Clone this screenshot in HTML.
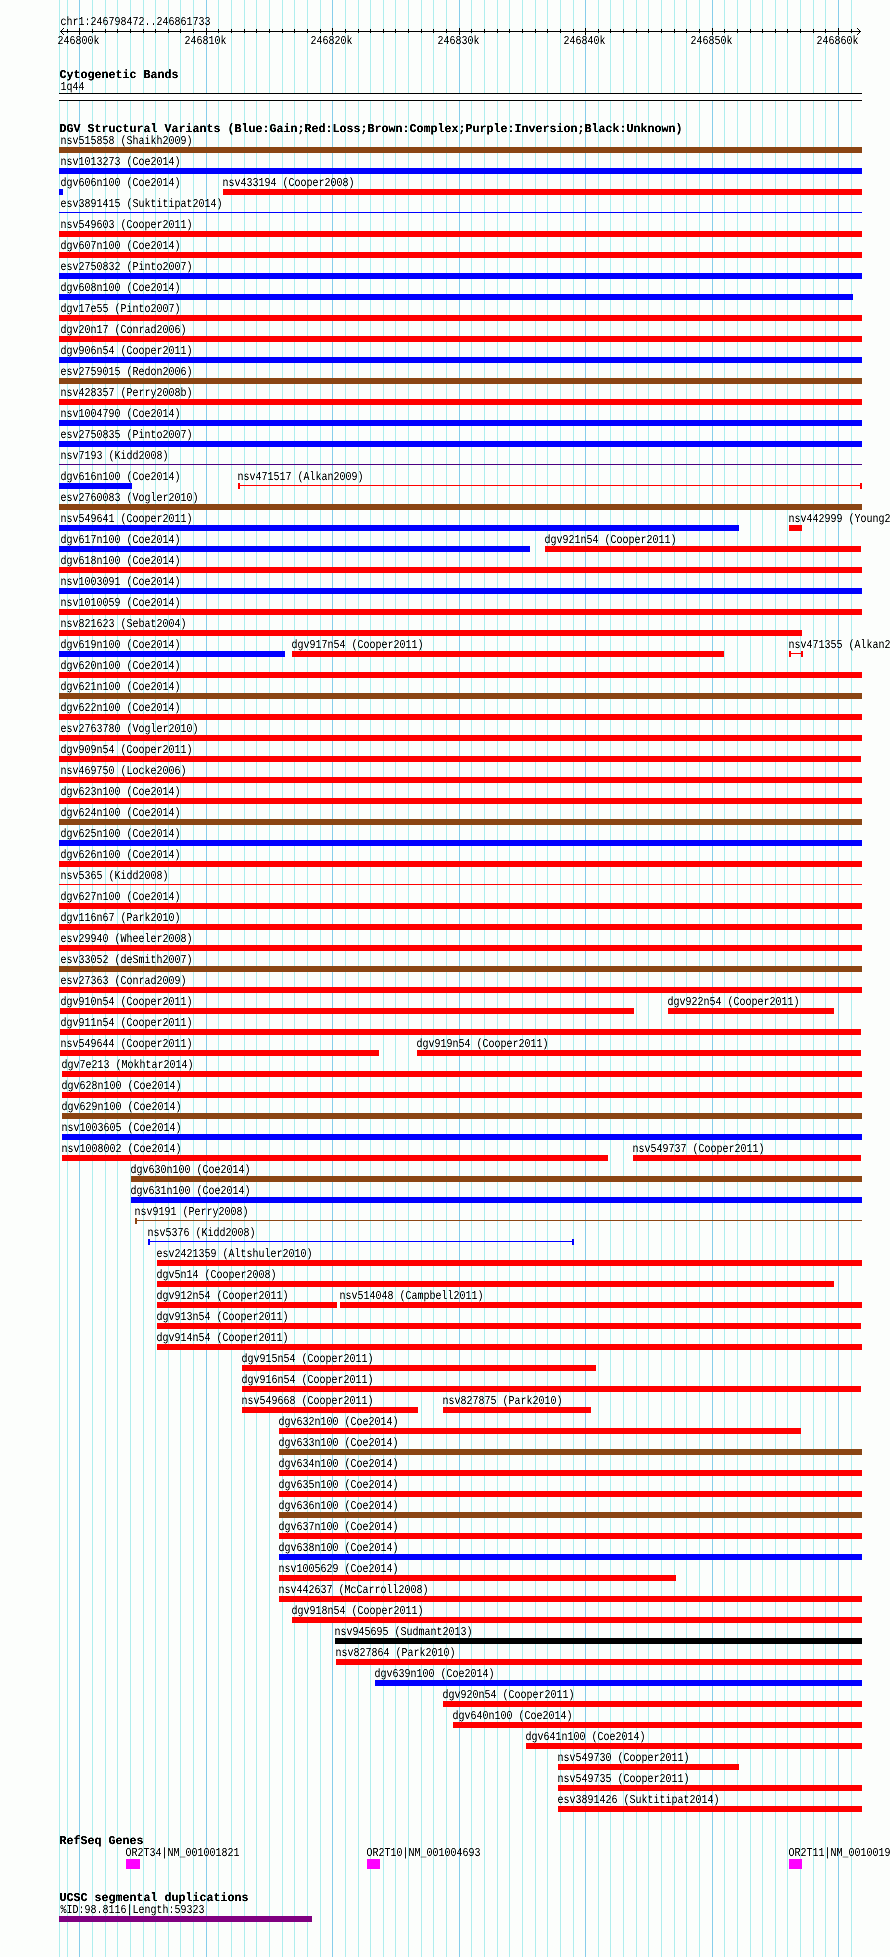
<!DOCTYPE html>
<html lang="en"><head><meta charset="utf-8"><title>DGV genome browser view chr1:246798472..246861733</title>
<style>
html,body{margin:0;padding:0;width:890px;height:1957px;overflow:hidden;background:#fcfefc}
svg{display:block;position:absolute;left:0;top:0}
text{font-family:"Liberation Mono",monospace;fill:#000;white-space:pre;text-rendering:geometricPrecision}
.s{font-size:12.15px}
.b{font-size:12px;font-weight:bold}
</style></head><body>
<svg width="890" height="1957" viewBox="0 0 890 1957">
<g shape-rendering="crispEdges">
<path fill="#afeeee" d="M59 0h1v1957h-1zM67 0h1v1957h-1zM92 0h1v1957h-1zM105 0h1v1957h-1zM117 0h1v1957h-1zM130 0h1v1957h-1zM143 0h1v1957h-1zM155 0h1v1957h-1zM168 0h1v1957h-1zM180 0h1v1957h-1zM193 0h1v1957h-1zM218 0h1v1957h-1zM231 0h1v1957h-1zM244 0h1v1957h-1zM256 0h1v1957h-1zM269 0h1v1957h-1zM282 0h1v1957h-1zM294 0h1v1957h-1zM307 0h1v1957h-1zM320 0h1v1957h-1zM345 0h1v1957h-1zM358 0h1v1957h-1zM370 0h1v1957h-1zM383 0h1v1957h-1zM395 0h1v1957h-1zM408 0h1v1957h-1zM421 0h1v1957h-1zM433 0h1v1957h-1zM446 0h1v1957h-1zM471 0h1v1957h-1zM484 0h1v1957h-1zM497 0h1v1957h-1zM509 0h1v1957h-1zM522 0h1v1957h-1zM535 0h1v1957h-1zM547 0h1v1957h-1zM560 0h1v1957h-1zM573 0h1v1957h-1zM598 0h1v1957h-1zM610 0h1v1957h-1zM623 0h1v1957h-1zM636 0h1v1957h-1zM648 0h1v1957h-1zM661 0h1v1957h-1zM674 0h1v1957h-1zM686 0h1v1957h-1zM699 0h1v1957h-1zM724 0h1v1957h-1zM737 0h1v1957h-1zM750 0h1v1957h-1zM762 0h1v1957h-1zM775 0h1v1957h-1zM787 0h1v1957h-1zM800 0h1v1957h-1zM813 0h1v1957h-1zM825 0h1v1957h-1zM851 0h1v1957h-1z"/>
<path fill="#87ceeb" d="M79 0h1v1957h-1zM206 0h1v1957h-1zM332 0h1v1957h-1zM459 0h1v1957h-1zM585 0h1v1957h-1zM712 0h1v1957h-1zM838 0h1v1957h-1z"/>
<path fill="#000" d="M60 31h801v1h-801zM67 29h1v4h-1zM79 28h1v7h-1zM92 29h1v4h-1zM105 29h1v4h-1zM117 29h1v4h-1zM130 29h1v4h-1zM143 29h1v4h-1zM155 29h1v4h-1zM168 29h1v4h-1zM180 29h1v4h-1zM193 29h1v4h-1zM206 28h1v7h-1zM218 29h1v4h-1zM231 29h1v4h-1zM244 29h1v4h-1zM256 29h1v4h-1zM269 29h1v4h-1zM282 29h1v4h-1zM294 29h1v4h-1zM307 29h1v4h-1zM320 29h1v4h-1zM332 28h1v7h-1zM345 29h1v4h-1zM358 29h1v4h-1zM370 29h1v4h-1zM383 29h1v4h-1zM395 29h1v4h-1zM408 29h1v4h-1zM421 29h1v4h-1zM433 29h1v4h-1zM446 29h1v4h-1zM459 28h1v7h-1zM471 29h1v4h-1zM484 29h1v4h-1zM497 29h1v4h-1zM509 29h1v4h-1zM522 29h1v4h-1zM535 29h1v4h-1zM547 29h1v4h-1zM560 29h1v4h-1zM573 29h1v4h-1zM585 28h1v7h-1zM598 29h1v4h-1zM610 29h1v4h-1zM623 29h1v4h-1zM636 29h1v4h-1zM648 29h1v4h-1zM661 29h1v4h-1zM674 29h1v4h-1zM686 29h1v4h-1zM699 29h1v4h-1zM712 28h1v7h-1zM724 29h1v4h-1zM737 29h1v4h-1zM750 29h1v4h-1zM762 29h1v4h-1zM775 29h1v4h-1zM787 29h1v4h-1zM800 29h1v4h-1zM813 29h1v4h-1zM825 29h1v4h-1zM838 28h1v7h-1zM851 29h1v4h-1zM61 30h1v1h-1zM62 29h1v1h-1zM63 28h1v1h-1zM61 32h1v1h-1zM62 33h1v1h-1zM63 34h1v1h-1zM859 30h1v1h-1zM858 29h1v1h-1zM857 28h1v1h-1zM859 32h1v1h-1zM858 33h1v1h-1zM857 34h1v1h-1z"/>
<rect x="59" y="93" width="803" height="8" fill="#fff"/>
<path fill="#000" d="M59 93h803v1h-803zM59 100h803v1h-803z"/>
<path fill="#8b4513" d="M59 147h803v6h-803zM59 378h803v6h-803zM59 504h803v6h-803zM59 693h803v6h-803zM59 819h803v6h-803zM59 966h803v6h-803zM62 1113h800v6h-800zM131 1176h731v6h-731zM135 1220h727v1h-727zM135 1218h2v6h-2zM279 1449h583v6h-583zM279 1512h583v6h-583z"/>
<path fill="#0000ff" d="M59 168h803v6h-803zM59 189h4v6h-4zM59 212h803v1h-803zM59 273h803v6h-803zM59 294h794v6h-794zM59 357h803v6h-803zM59 420h803v6h-803zM59 441h803v6h-803zM59 483h73v6h-73zM59 525h680v6h-680zM59 546h471v6h-471zM59 588h803v6h-803zM59 651h226v6h-226zM59 840h803v6h-803zM62 1134h800v6h-800zM131 1197h731v6h-731zM148 1241h426v1h-426zM148 1239h2v6h-2zM572 1239h2v6h-2zM279 1554h583v6h-583zM375 1680h487v6h-487z"/>
<path fill="#ff0000" d="M223 189h639v6h-639zM59 231h803v6h-803zM59 252h803v6h-803zM59 315h803v6h-803zM59 336h803v6h-803zM59 399h803v6h-803zM238 485h624v1h-624zM238 483h2v6h-2zM860 483h2v6h-2zM789 525h13v6h-13zM545 546h316v6h-316zM59 567h803v6h-803zM59 609h803v6h-803zM59 630h743v6h-743zM292 651h432v6h-432zM789 653h14v1h-14zM789 651h2v6h-2zM801 651h2v6h-2zM59 672h803v6h-803zM59 714h803v6h-803zM59 735h803v6h-803zM59 756h802v6h-802zM59 777h803v6h-803zM59 798h803v6h-803zM59 861h803v6h-803zM59 884h803v1h-803zM59 903h803v6h-803zM59 924h803v6h-803zM59 945h803v6h-803zM59 987h803v6h-803zM60 1008h574v6h-574zM668 1008h166v6h-166zM60 1029h801v6h-801zM60 1050h319v6h-319zM417 1050h444v6h-444zM62 1071h800v6h-800zM62 1092h800v6h-800zM62 1155h546v6h-546zM633 1155h228v6h-228zM157 1260h705v6h-705zM157 1281h677v6h-677zM157 1302h180v6h-180zM340 1302h522v6h-522zM157 1323h704v6h-704zM157 1344h705v6h-705zM242 1365h354v6h-354zM242 1386h619v6h-619zM242 1407h176v6h-176zM443 1407h148v6h-148zM279 1428h522v6h-522zM279 1470h583v6h-583zM279 1491h583v6h-583zM279 1533h583v6h-583zM279 1575h397v6h-397zM279 1596h583v6h-583zM292 1617h570v6h-570zM336 1659h526v6h-526zM443 1701h419v6h-419zM453 1722h409v6h-409zM526 1743h336v6h-336zM558 1764h181v6h-181zM558 1785h304v6h-304zM558 1806h304v6h-304z"/>
<path fill="#4b0082" d="M59 464h803v1h-803z"/>
<path fill="#000000" d="M335 1638h527v6h-527z"/>
<path fill="#ff00ff" d="M126 1859h14v10h-14zM367 1859h13v10h-13zM789 1859h13v10h-13z"/>
<path fill="#800080" d="M59 1916h253v6h-253z"/>
</g>
<defs><filter id="k" x="0" y="0" width="890" height="1957" filterUnits="userSpaceOnUse" color-interpolation-filters="sRGB"><feComponentTransfer><feFuncA type="linear" slope="1.3" intercept="-0.1"/></feComponentTransfer></filter><filter id="kb" x="0" y="0" width="890" height="1957" filterUnits="userSpaceOnUse" color-interpolation-filters="sRGB"><feComponentTransfer><feFuncA type="linear" slope="1.5" intercept="-0.1"/></feComponentTransfer></filter></defs>
<g filter="url(#k)">
<text class="s" x="60.5" y="25" textLength="150" lengthAdjust="spacingAndGlyphs">chr1:246798472..246861733</text>
<text class="s" x="57.5" y="44" textLength="42" lengthAdjust="spacingAndGlyphs">246800k</text>
<text class="s" x="184.5" y="44" textLength="42" lengthAdjust="spacingAndGlyphs">246810k</text>
<text class="s" x="310.5" y="44" textLength="42" lengthAdjust="spacingAndGlyphs">246820k</text>
<text class="s" x="437.5" y="44" textLength="42" lengthAdjust="spacingAndGlyphs">246830k</text>
<text class="s" x="563.5" y="44" textLength="42" lengthAdjust="spacingAndGlyphs">246840k</text>
<text class="s" x="690.5" y="44" textLength="42" lengthAdjust="spacingAndGlyphs">246850k</text>
<text class="s" x="816.5" y="44" textLength="42" lengthAdjust="spacingAndGlyphs">246860k</text>
<text class="s" x="60.5" y="90" textLength="24" lengthAdjust="spacingAndGlyphs">1q44</text>
<text class="s" x="60.5" y="144" textLength="132" lengthAdjust="spacingAndGlyphs">nsv515858 (Shaikh2009)</text>
<text class="s" x="60.5" y="165" textLength="120" lengthAdjust="spacingAndGlyphs">nsv1013273 (Coe2014)</text>
<text class="s" x="60.5" y="186" textLength="120" lengthAdjust="spacingAndGlyphs">dgv606n100 (Coe2014)</text>
<text class="s" x="222.5" y="186" textLength="132" lengthAdjust="spacingAndGlyphs">nsv433194 (Cooper2008)</text>
<text class="s" x="60.5" y="207" textLength="162" lengthAdjust="spacingAndGlyphs">esv3891415 (Suktitipat2014)</text>
<text class="s" x="60.5" y="228" textLength="132" lengthAdjust="spacingAndGlyphs">nsv549603 (Cooper2011)</text>
<text class="s" x="60.5" y="249" textLength="120" lengthAdjust="spacingAndGlyphs">dgv607n100 (Coe2014)</text>
<text class="s" x="60.5" y="270" textLength="132" lengthAdjust="spacingAndGlyphs">esv2750832 (Pinto2007)</text>
<text class="s" x="60.5" y="291" textLength="120" lengthAdjust="spacingAndGlyphs">dgv608n100 (Coe2014)</text>
<text class="s" x="60.5" y="312" textLength="120" lengthAdjust="spacingAndGlyphs">dgv17e55 (Pinto2007)</text>
<text class="s" x="60.5" y="333" textLength="126" lengthAdjust="spacingAndGlyphs">dgv20n17 (Conrad2006)</text>
<text class="s" x="60.5" y="354" textLength="132" lengthAdjust="spacingAndGlyphs">dgv906n54 (Cooper2011)</text>
<text class="s" x="60.5" y="375" textLength="132" lengthAdjust="spacingAndGlyphs">esv2759015 (Redon2006)</text>
<text class="s" x="60.5" y="396" textLength="132" lengthAdjust="spacingAndGlyphs">nsv428357 (Perry2008b)</text>
<text class="s" x="60.5" y="417" textLength="120" lengthAdjust="spacingAndGlyphs">nsv1004790 (Coe2014)</text>
<text class="s" x="60.5" y="438" textLength="132" lengthAdjust="spacingAndGlyphs">esv2750835 (Pinto2007)</text>
<text class="s" x="60.5" y="459" textLength="108" lengthAdjust="spacingAndGlyphs">nsv7193 (Kidd2008)</text>
<text class="s" x="60.5" y="480" textLength="120" lengthAdjust="spacingAndGlyphs">dgv616n100 (Coe2014)</text>
<text class="s" x="237.5" y="480" textLength="126" lengthAdjust="spacingAndGlyphs">nsv471517 (Alkan2009)</text>
<text class="s" x="60.5" y="501" textLength="138" lengthAdjust="spacingAndGlyphs">esv2760083 (Vogler2010)</text>
<text class="s" x="60.5" y="522" textLength="132" lengthAdjust="spacingAndGlyphs">nsv549641 (Cooper2011)</text>
<text class="s" x="788.5" y="522" textLength="126" lengthAdjust="spacingAndGlyphs">nsv442999 (Young2010)</text>
<text class="s" x="60.5" y="543" textLength="120" lengthAdjust="spacingAndGlyphs">dgv617n100 (Coe2014)</text>
<text class="s" x="544.5" y="543" textLength="132" lengthAdjust="spacingAndGlyphs">dgv921n54 (Cooper2011)</text>
<text class="s" x="60.5" y="564" textLength="120" lengthAdjust="spacingAndGlyphs">dgv618n100 (Coe2014)</text>
<text class="s" x="60.5" y="585" textLength="120" lengthAdjust="spacingAndGlyphs">nsv1003091 (Coe2014)</text>
<text class="s" x="60.5" y="606" textLength="120" lengthAdjust="spacingAndGlyphs">nsv1010059 (Coe2014)</text>
<text class="s" x="60.5" y="627" textLength="126" lengthAdjust="spacingAndGlyphs">nsv821623 (Sebat2004)</text>
<text class="s" x="60.5" y="648" textLength="120" lengthAdjust="spacingAndGlyphs">dgv619n100 (Coe2014)</text>
<text class="s" x="291.5" y="648" textLength="132" lengthAdjust="spacingAndGlyphs">dgv917n54 (Cooper2011)</text>
<text class="s" x="788.5" y="648" textLength="126" lengthAdjust="spacingAndGlyphs">nsv471355 (Alkan2009)</text>
<text class="s" x="60.5" y="669" textLength="120" lengthAdjust="spacingAndGlyphs">dgv620n100 (Coe2014)</text>
<text class="s" x="60.5" y="690" textLength="120" lengthAdjust="spacingAndGlyphs">dgv621n100 (Coe2014)</text>
<text class="s" x="60.5" y="711" textLength="120" lengthAdjust="spacingAndGlyphs">dgv622n100 (Coe2014)</text>
<text class="s" x="60.5" y="732" textLength="138" lengthAdjust="spacingAndGlyphs">esv2763780 (Vogler2010)</text>
<text class="s" x="60.5" y="753" textLength="132" lengthAdjust="spacingAndGlyphs">dgv909n54 (Cooper2011)</text>
<text class="s" x="60.5" y="774" textLength="126" lengthAdjust="spacingAndGlyphs">nsv469750 (Locke2006)</text>
<text class="s" x="60.5" y="795" textLength="120" lengthAdjust="spacingAndGlyphs">dgv623n100 (Coe2014)</text>
<text class="s" x="60.5" y="816" textLength="120" lengthAdjust="spacingAndGlyphs">dgv624n100 (Coe2014)</text>
<text class="s" x="60.5" y="837" textLength="120" lengthAdjust="spacingAndGlyphs">dgv625n100 (Coe2014)</text>
<text class="s" x="60.5" y="858" textLength="120" lengthAdjust="spacingAndGlyphs">dgv626n100 (Coe2014)</text>
<text class="s" x="60.5" y="879" textLength="108" lengthAdjust="spacingAndGlyphs">nsv5365 (Kidd2008)</text>
<text class="s" x="60.5" y="900" textLength="120" lengthAdjust="spacingAndGlyphs">dgv627n100 (Coe2014)</text>
<text class="s" x="60.5" y="921" textLength="120" lengthAdjust="spacingAndGlyphs">dgv116n67 (Park2010)</text>
<text class="s" x="60.5" y="942" textLength="132" lengthAdjust="spacingAndGlyphs">esv29940 (Wheeler2008)</text>
<text class="s" x="60.5" y="963" textLength="132" lengthAdjust="spacingAndGlyphs">esv33052 (deSmith2007)</text>
<text class="s" x="60.5" y="984" textLength="126" lengthAdjust="spacingAndGlyphs">esv27363 (Conrad2009)</text>
<text class="s" x="60.5" y="1005" textLength="132" lengthAdjust="spacingAndGlyphs">dgv910n54 (Cooper2011)</text>
<text class="s" x="667.5" y="1005" textLength="132" lengthAdjust="spacingAndGlyphs">dgv922n54 (Cooper2011)</text>
<text class="s" x="60.5" y="1026" textLength="132" lengthAdjust="spacingAndGlyphs">dgv911n54 (Cooper2011)</text>
<text class="s" x="60.5" y="1047" textLength="132" lengthAdjust="spacingAndGlyphs">nsv549644 (Cooper2011)</text>
<text class="s" x="416.5" y="1047" textLength="132" lengthAdjust="spacingAndGlyphs">dgv919n54 (Cooper2011)</text>
<text class="s" x="61.5" y="1068" textLength="132" lengthAdjust="spacingAndGlyphs">dgv7e213 (Mokhtar2014)</text>
<text class="s" x="61.5" y="1089" textLength="120" lengthAdjust="spacingAndGlyphs">dgv628n100 (Coe2014)</text>
<text class="s" x="61.5" y="1110" textLength="120" lengthAdjust="spacingAndGlyphs">dgv629n100 (Coe2014)</text>
<text class="s" x="61.5" y="1131" textLength="120" lengthAdjust="spacingAndGlyphs">nsv1003605 (Coe2014)</text>
<text class="s" x="61.5" y="1152" textLength="120" lengthAdjust="spacingAndGlyphs">nsv1008002 (Coe2014)</text>
<text class="s" x="632.5" y="1152" textLength="132" lengthAdjust="spacingAndGlyphs">nsv549737 (Cooper2011)</text>
<text class="s" x="130.5" y="1173" textLength="120" lengthAdjust="spacingAndGlyphs">dgv630n100 (Coe2014)</text>
<text class="s" x="130.5" y="1194" textLength="120" lengthAdjust="spacingAndGlyphs">dgv631n100 (Coe2014)</text>
<text class="s" x="134.5" y="1215" textLength="114" lengthAdjust="spacingAndGlyphs">nsv9191 (Perry2008)</text>
<text class="s" x="147.5" y="1236" textLength="108" lengthAdjust="spacingAndGlyphs">nsv5376 (Kidd2008)</text>
<text class="s" x="156.5" y="1257" textLength="156" lengthAdjust="spacingAndGlyphs">esv2421359 (Altshuler2010)</text>
<text class="s" x="156.5" y="1278" textLength="120" lengthAdjust="spacingAndGlyphs">dgv5n14 (Cooper2008)</text>
<text class="s" x="156.5" y="1299" textLength="132" lengthAdjust="spacingAndGlyphs">dgv912n54 (Cooper2011)</text>
<text class="s" x="339.5" y="1299" textLength="144" lengthAdjust="spacingAndGlyphs">nsv514048 (Campbell2011)</text>
<text class="s" x="156.5" y="1320" textLength="132" lengthAdjust="spacingAndGlyphs">dgv913n54 (Cooper2011)</text>
<text class="s" x="156.5" y="1341" textLength="132" lengthAdjust="spacingAndGlyphs">dgv914n54 (Cooper2011)</text>
<text class="s" x="241.5" y="1362" textLength="132" lengthAdjust="spacingAndGlyphs">dgv915n54 (Cooper2011)</text>
<text class="s" x="241.5" y="1383" textLength="132" lengthAdjust="spacingAndGlyphs">dgv916n54 (Cooper2011)</text>
<text class="s" x="241.5" y="1404" textLength="132" lengthAdjust="spacingAndGlyphs">nsv549668 (Cooper2011)</text>
<text class="s" x="442.5" y="1404" textLength="120" lengthAdjust="spacingAndGlyphs">nsv827875 (Park2010)</text>
<text class="s" x="278.5" y="1425" textLength="120" lengthAdjust="spacingAndGlyphs">dgv632n100 (Coe2014)</text>
<text class="s" x="278.5" y="1446" textLength="120" lengthAdjust="spacingAndGlyphs">dgv633n100 (Coe2014)</text>
<text class="s" x="278.5" y="1467" textLength="120" lengthAdjust="spacingAndGlyphs">dgv634n100 (Coe2014)</text>
<text class="s" x="278.5" y="1488" textLength="120" lengthAdjust="spacingAndGlyphs">dgv635n100 (Coe2014)</text>
<text class="s" x="278.5" y="1509" textLength="120" lengthAdjust="spacingAndGlyphs">dgv636n100 (Coe2014)</text>
<text class="s" x="278.5" y="1530" textLength="120" lengthAdjust="spacingAndGlyphs">dgv637n100 (Coe2014)</text>
<text class="s" x="278.5" y="1551" textLength="120" lengthAdjust="spacingAndGlyphs">dgv638n100 (Coe2014)</text>
<text class="s" x="278.5" y="1572" textLength="120" lengthAdjust="spacingAndGlyphs">nsv1005629 (Coe2014)</text>
<text class="s" x="278.5" y="1593" textLength="150" lengthAdjust="spacingAndGlyphs">nsv442637 (McCarroll2008)</text>
<text class="s" x="291.5" y="1614" textLength="132" lengthAdjust="spacingAndGlyphs">dgv918n54 (Cooper2011)</text>
<text class="s" x="334.5" y="1635" textLength="138" lengthAdjust="spacingAndGlyphs">nsv945695 (Sudmant2013)</text>
<text class="s" x="335.5" y="1656" textLength="120" lengthAdjust="spacingAndGlyphs">nsv827864 (Park2010)</text>
<text class="s" x="374.5" y="1677" textLength="120" lengthAdjust="spacingAndGlyphs">dgv639n100 (Coe2014)</text>
<text class="s" x="442.5" y="1698" textLength="132" lengthAdjust="spacingAndGlyphs">dgv920n54 (Cooper2011)</text>
<text class="s" x="452.5" y="1719" textLength="120" lengthAdjust="spacingAndGlyphs">dgv640n100 (Coe2014)</text>
<text class="s" x="525.5" y="1740" textLength="120" lengthAdjust="spacingAndGlyphs">dgv641n100 (Coe2014)</text>
<text class="s" x="557.5" y="1761" textLength="132" lengthAdjust="spacingAndGlyphs">nsv549730 (Cooper2011)</text>
<text class="s" x="557.5" y="1782" textLength="132" lengthAdjust="spacingAndGlyphs">nsv549735 (Cooper2011)</text>
<text class="s" x="557.5" y="1803" textLength="162" lengthAdjust="spacingAndGlyphs">esv3891426 (Suktitipat2014)</text>
<text class="s" x="125.5" y="1856" textLength="114" lengthAdjust="spacingAndGlyphs">OR2T34|NM_001001821</text>
<text class="s" x="366.5" y="1856" textLength="114" lengthAdjust="spacingAndGlyphs">OR2T10|NM_001004693</text>
<text class="s" x="788.5" y="1856" textLength="114" lengthAdjust="spacingAndGlyphs">OR2T11|NM_001001964</text>
<text class="s" x="60.5" y="1913" textLength="144" lengthAdjust="spacingAndGlyphs">%ID:98.8116|Length:59323</text>
</g>
<g filter="url(#kb)">
<text class="b" x="59.5" y="78" textLength="119" lengthAdjust="spacingAndGlyphs">Cytogenetic Bands</text>
<text class="b" x="59.5" y="132" textLength="623" lengthAdjust="spacingAndGlyphs">DGV Structural Variants (Blue:Gain;Red:Loss;Brown:Complex;Purple:Inversion;Black:Unknown)</text>
<text class="b" x="59.5" y="1844" textLength="84" lengthAdjust="spacingAndGlyphs">RefSeq Genes</text>
<text class="b" x="59.5" y="1901" textLength="189" lengthAdjust="spacingAndGlyphs">UCSC segmental duplications</text>
</g>
</svg>
</body></html>
